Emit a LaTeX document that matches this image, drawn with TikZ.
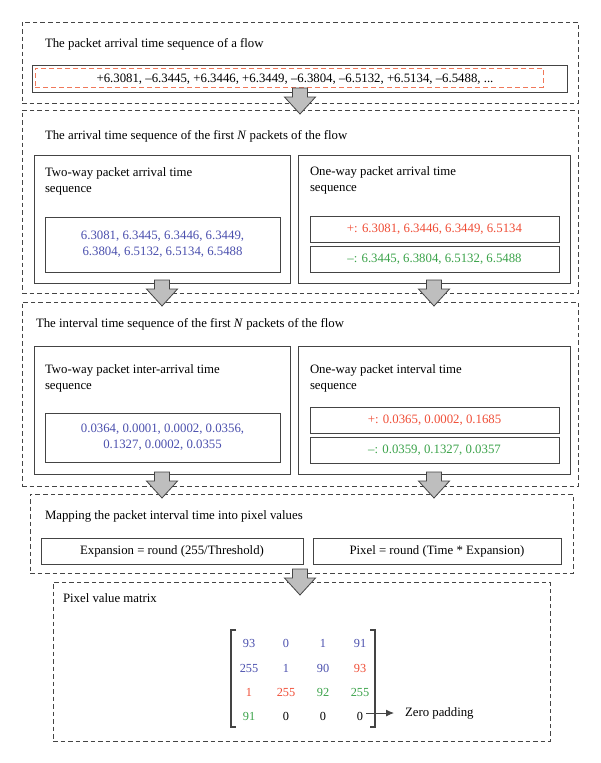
\documentclass[tikz,border=0pt]{standalone}
\usepackage{fontspec}
\setmainfont{Liberation Serif}
\usetikzlibrary{arrows.meta}
\definecolor{myblue}{HTML}{4B50AE}
\definecolor{myred}{HTML}{F04E37}
\definecolor{mygreen}{HTML}{3BA34A}
\definecolor{lineg}{HTML}{444444}
\definecolor{arrowgray}{HTML}{BEBEBE}
\definecolor{reddash}{HTML}{F0785A}
\newcommand{\blockarrow}[2]{%
  \draw[blk] (#1-7.5,#2) -- (#1+7.5,#2) -- (#1+7.5,#2+9) -- (#1+15.5,#2+9) -- (#1,#2+26)
    -- (#1-15.5,#2+9) -- (#1-7.5,#2+9) -- cycle;}
\begin{document}
\begin{tikzpicture}[x=1pt,y=-1pt,
  every node/.style={font=\fontsize{12.8}{16}\selectfont, inner sep=0pt, outer sep=0pt},
  dbox/.style={draw=lineg, line width=0.9pt, dash pattern=on 4.5pt off 3pt, rectangle, anchor=north west},
  sbox/.style={draw=lineg, line width=1pt, rectangle, anchor=north west},
  rdbox/.style={draw=reddash, line width=0.9pt, dash pattern=on 5pt off 3pt, rectangle, anchor=north west},
  ttl/.style={anchor=base west},
  sub/.style={anchor=north west, align=left},
  blk/.style={fill=arrowgray, draw=lineg, line width=0.8pt, line join=miter},
  mnum/.style={font=\fontsize{12.3}{14}\selectfont},
  brk/.style={draw=lineg, line width=1.1pt}
]
\useasboundingbox[fill=white] (0,0) rectangle (600,763);

% ---------- Box 1 ----------
\node[dbox, minimum width=556pt, minimum height=81pt] (b1) at (22,22) {};
\node[ttl] (t1) at (45,47) {The packet arrival time sequence of a flow};
\node[sbox, minimum width=535pt, minimum height=27pt] (row) at (32,65) {};
\node[rdbox, minimum width=508pt, minimum height=19pt] (rowr) at (35,68) {};
\node (rowt) at (295,79) {+6.3081, –6.3445, +6.3446, +6.3449, –6.3804, –6.5132, +6.5134, –6.5488, ...};

% ---------- Box 2 ----------
\node[dbox, minimum width=556pt, minimum height=183pt] (b2) at (22,110) {};
\node[ttl] (t2) at (45,139) {The arrival time sequence of the first \textit{N} packets of the flow};
\node[sbox, minimum width=256pt, minimum height=128pt] (l2) at (34,155) {};
\node[sub] (l2t) at (45,168) {Two-way packet arrival time\\sequence};
\node[sbox, minimum width=235pt, minimum height=55pt, align=center, text=myblue] (l2v) at (45,217)
  {6.3081, 6.3445, 6.3446, 6.3449,\\6.3804, 6.5132, 6.5134, 6.5488};
\node[sbox, minimum width=272pt, minimum height=128pt] (r2) at (298,155) {};
\node[sub] (r2t) at (310,167) {One-way packet arrival time\\sequence};
\node[sbox, minimum width=249pt, minimum height=26pt, text=myred] (r2p) at (310,216)
  {+: 6.3081, 6.3446, 6.3449, 6.5134};
\node[sbox, minimum width=249pt, minimum height=26pt, text=mygreen] (r2m) at (310,246)
  {–: 6.3445, 6.3804, 6.5132, 6.5488};

% ---------- Box 3 ----------
\node[dbox, minimum width=556pt, minimum height=184pt] (b3) at (22,302) {};
\node[ttl] (t3) at (36,327) {The interval time sequence of the first \textit{N} packets of the flow};
\node[sbox, minimum width=256pt, minimum height=128pt] (l3) at (34,346) {};
\node[sub] (l3t) at (45,365) {Two-way packet inter-arrival time\\sequence};
\node[sbox, minimum width=235pt, minimum height=49pt, align=center, text=myblue] (l3v) at (45,413)
  {0.0364, 0.0001, 0.0002, 0.0356,\\0.1327, 0.0002, 0.0355};
\node[sbox, minimum width=272pt, minimum height=128pt] (r3) at (298,346) {};
\node[sub] (r3t) at (310,365) {One-way packet interval time\\sequence};
\node[sbox, minimum width=249pt, minimum height=26pt, text=myred] (r3p) at (310,407)
  {+: 0.0365, 0.0002, 0.1685};
\node[sbox, minimum width=249pt, minimum height=26pt, text=mygreen] (r3m) at (310,437)
  {–: 0.0359, 0.1327, 0.0357};

% ---------- Box 4 ----------
\node[dbox, minimum width=543pt, minimum height=79pt] (b4) at (30,494) {};
\node[ttl] (t4) at (45,519) {Mapping the packet interval time into pixel values};
\node[sbox, minimum width=262pt, minimum height=26pt] (f1) at (41,538) {Expansion = round (255/Threshold)};
\node[sbox, minimum width=248pt, minimum height=26pt] (f2) at (313,538) {Pixel = round (Time * Expansion)};

% ---------- Box 5 ----------
\node[dbox, minimum width=497pt, minimum height=159pt] (b5) at (53,582) {};
\node[ttl] (t5) at (63,602) {Pixel value matrix};

\node[mnum, text=myblue] (m11) at (249,643) {93};
\node[mnum, text=myblue] (m12) at (286,643) {0};
\node[mnum, text=myblue] (m13) at (323,643) {1};
\node[mnum, text=myblue] (m14) at (360,643) {91};
\node[mnum, text=myblue] (m21) at (249,668) {255};
\node[mnum, text=myblue] (m22) at (286,668) {1};
\node[mnum, text=myblue] (m23) at (323,668) {90};
\node[mnum, text=myred] (m24) at (360,668) {93};
\node[mnum, text=myred] (m31) at (249,692) {1};
\node[mnum, text=myred] (m32) at (286,692) {255};
\node[mnum, text=mygreen] (m33) at (323,692) {92};
\node[mnum, text=mygreen] (m34) at (360,692) {255};
\node[mnum, text=mygreen] (m41) at (249,716) {91};
\node[mnum] (m42) at (286,716) {0};
\node[mnum] (m43) at (323,716) {0};
\node[mnum, inner sep=3pt] (m44) at (360,716) {0};
\draw[brk] (236,630) -- (231,630) -- (231,727) -- (236,727);
\draw[brk] (370,630) -- (375,630) -- (375,727) -- (370,727);
\node[anchor=west] (zp) at (405,713) {Zero padding};
\draw[draw=lineg, line width=0.9pt, -{Latex[length=8pt,width=7pt]}, shorten >=11pt]
  (m44.east |- zp.west) -- (zp.west);

% ---------- Block arrows ----------
\blockarrow{300}{88}
\blockarrow{162}{280}
\blockarrow{434}{280}
\blockarrow{162}{472}
\blockarrow{434}{472}
\blockarrow{300}{569}
\end{tikzpicture}
\end{document}
